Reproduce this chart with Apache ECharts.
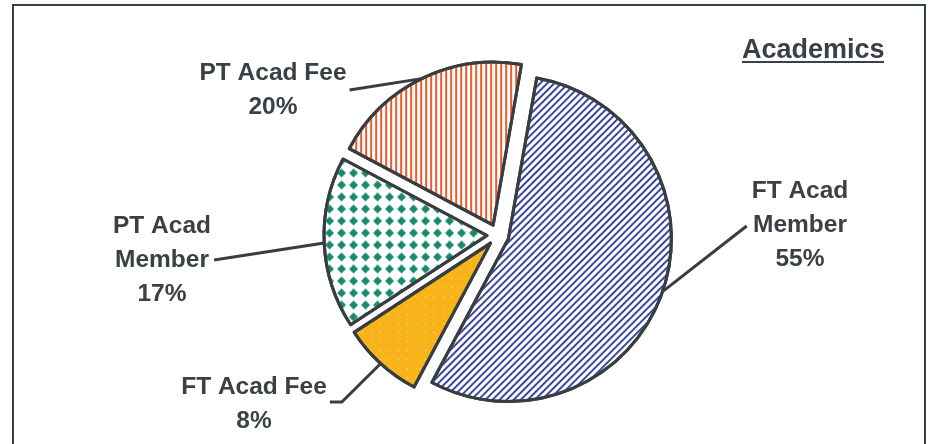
<!DOCTYPE html>
<html>
<head>
<meta charset="utf-8">
<title>Academics</title>
<script src="https://cdn.jsdelivr.net/npm/echarts@6/dist/echarts.min.js"></script>
<style>html,body{margin:0;padding:0;background:#fff;}</style>
</head>
<body>
<div id="container" style="width:929px;height:444px;"></div>
<script type="text/javascript">
// data
var names = ['FT Acad Member', 'FT Acad Fee', 'PT Acad Member', 'PT Acad Fee'];
var values = [55, 8, 17, 20];
var fills = ['#ffffff', '#f9b41b', '#ffffff', '#ffffff'];
var patternColors = ['#3b489e', 'rgba(255,255,255,0.75)', '#188a6b', '#ee5a2b'];

var pieCenter = [498, 235];
var pieRadius = 163;
var startAngle = 80;
var explode = 11;
var ink = '#383d40';
var font = 'Liberation Sans, Arial, sans-serif';

// where each label block sits
var labelPos = [[800, 225], [254, 404], [162, 260], [273, 90]];

function midAngle(i) {
    var total = 0, cum = 0;
    for (var j = 0; j < values.length; j++) {
        total += values[j];
        if (j < i) cum += values[j];
    }
    return (startAngle - (cum + values[i] / 2) / total * 360) * Math.PI / 180;
}
function arcPoint(i) {
    var a = midAngle(i);
    var d = pieRadius + explode;
    return [pieCenter[0] + d * Math.cos(a), pieCenter[1] - d * Math.sin(a)];
}

var decals = [
    {symbol: 'rect', symbolSize: 1, color: patternColors[0], dashArrayX: [1, 0], dashArrayY: [2, 3], rotation: -Math.PI / 4},
    {symbol: 'rect', symbolSize: 1, color: patternColors[1], dashArrayX: [1, 8], dashArrayY: [1, 8]},
    {symbol: 'diamond', symbolSize: 1, color: patternColors[2], dashArrayX: [9, 3], dashArrayY: [9, 3]},
    {symbol: 'rect', symbolSize: 1, color: patternColors[3], dashArrayX: [2, 3], dashArrayY: [1, 0]}
];

var sliceData = [], labelData = [];
for (var i = 0; i < names.length; i++) {
    sliceData.push({
        name: names[i],
        value: values[i],
        selected: true,
        itemStyle: {color: fills[i], decal: decals[i]}
    });
    labelData.push({name: names[i], value: values[i]});
}

var myChart = echarts.init(document.getElementById('container'));
myChart.setOption({
    animation: false,
    backgroundColor: '#ffffff',
    title: {
        text: 'Academics',
        left: 737,
        top: 32,
        textStyle: {fontFamily: font, fontSize: 27, fontWeight: 'bold', color: '#3a4045'}
    },
    graphic: [
        {type: 'rect', shape: {x: 13, y: 5, width: 912, height: 480},
         style: {fill: 'none', stroke: '#34414c', lineWidth: 2}, silent: true},
        {type: 'rect', shape: {x: 742, y: 61, width: 142, height: 2},
         style: {fill: '#3a4045'}, silent: true}
    ],
    series: [{
        // exploded slices
        type: 'pie',
        center: pieCenter,
        radius: pieRadius,
        startAngle: startAngle,
        clockwise: true,
        selectedMode: 'multiple',
        selectedOffset: explode,
        data: sliceData,
        itemStyle: {borderColor: ink, borderWidth: 3},
        emphasis: {disabled: true},
        select: {itemStyle: {borderColor: ink, borderWidth: 3}},
        label: {show: false},
        labelLine: {show: false}
    }, {
        // labels and leader lines
        type: 'pie',
        center: pieCenter,
        radius: pieRadius,
        startAngle: startAngle,
        clockwise: true,
        silent: true,
        z: 3,
        data: labelData,
        itemStyle: {color: 'rgba(0,0,0,0)', borderWidth: 0},
        emphasis: {disabled: true},
        label: {
            show: true,
            position: 'outside',
            formatter: function (p) {
                return p.name.replace(' Member', '\nMember') + '\n' + Math.round(p.percent) + '%';
            },
            fontFamily: font,
            fontSize: 24.5,
            fontWeight: 'bold',
            lineHeight: 34,
            align: 'center',
            color: '#3a4045'
        },
        labelLine: {show: true, lineStyle: {color: ink, width: 3}},
        labelLayout: function (params) {
            var i = params.dataIndex;
            var p = labelPos[i];
            var w = params.labelRect.width;
            var start = arcPoint(i);
            var end, knee;
            if (p[0] > pieCenter[0]) {
                end = [p[0] - w / 2 - 5, p[1] + 1];
                knee = end;
            } else {
                end = [p[0] + w / 2 + 3, p[1] + (i === 1 ? -2 : 0)];
                knee = i === 1 ? [end[0] + 12, end[1]] : end;
            }
            return {
                x: p[0],
                y: p[1],
                align: 'center',
                verticalAlign: 'middle',
                labelLinePoints: [start, knee, end]
            };
        }
    }]
});
</script>
</body>
</html>
